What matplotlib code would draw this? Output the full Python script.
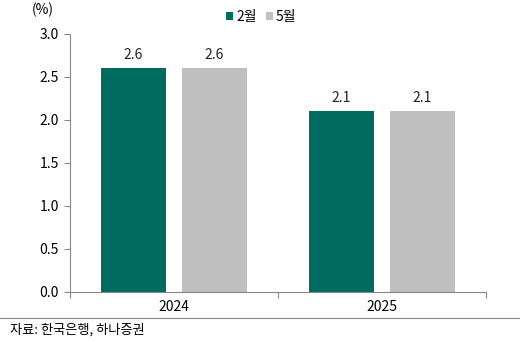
import matplotlib.pyplot as plt
import numpy as np

plt.rcParams['font.family'] = ['Noto Sans CJK KR', 'DejaVu Sans']

years = ['2024', '2025']
feb = [2.6, 2.1]
may = [2.6, 2.1]
series_names = ['2월', '5월']
colors = ['#006B5F', '#BFBFBF']

fig = plt.figure(figsize=(5.24, 3.42), dpi=100)
ax = fig.add_axes([0.1336, 0.1462, 0.7939, 0.7544])

x = np.arange(len(years))
w = 0.31
off = 0.195
b1 = ax.bar(x - off, feb, w, color=colors[0], label=series_names[0])
b2 = ax.bar(x + off, may, w, color=colors[1], label=series_names[1])

for bars, vals in [(b1, feb), (b2, may)]:
    for b, v in zip(bars, vals):
        ax.text(b.get_x() + b.get_width() / 2, v + 0.08, f'{v:.1f}',
                ha='center', va='bottom', fontsize=10, color='#222222')

ax.set_xlim(-0.5, 1.5)
ax.set_ylim(0, 3.0)
ax.set_yticks(np.arange(0, 3.01, 0.5))
ax.set_yticklabels([f'{t:.1f}' for t in np.arange(0, 3.01, 0.5)])
ax.set_xticks([-0.5, 0.5, 1.5])
ax.set_xticklabels([])
ax.set_xticks(x, minor=True)
ax.set_xticklabels(years, minor=True)
ax.tick_params(axis='x', which='major', length=4, color='#888888')
ax.tick_params(axis='x', which='minor', length=0, pad=6, labelsize=10)
ax.tick_params(axis='y', length=4, color='#888888', labelsize=10, pad=4)

for s in ['top', 'right']:
    ax.spines[s].set_visible(False)
for s in ['left', 'bottom']:
    ax.spines[s].set_color('#888888')
    ax.spines[s].set_linewidth(0.8)

ax.legend(loc='center', bbox_to_anchor=(0.46, 1.066), ncol=2, frameon=False,
          fontsize=10, handlelength=0.5, handleheight=0.5, handletextpad=0.2,
          columnspacing=0.7, borderpad=0)

fig.text(0.082, 0.972, '(%)', fontsize=10, ha='center', va='center')
fig.add_artist(plt.Line2D([0, 0.99], [0.07, 0.07], color='#888888', lw=0.8))
fig.text(0.02, 0.035, '자료: 한국은행, 하나증권', fontsize=9.5, va='center')

fig.savefig('out.png', dpi=100)
